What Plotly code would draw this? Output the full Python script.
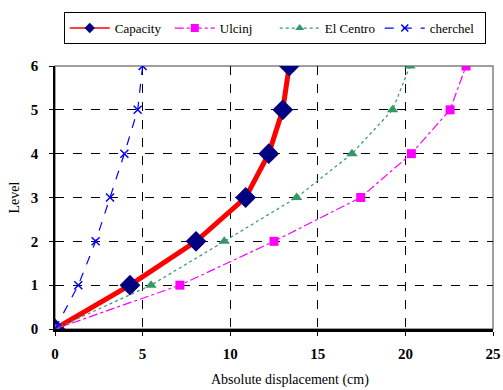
import plotly.graph_objects as go

levels = [0, 1, 2, 3, 4, 5, 6]
capacity = [0, 4.28, 8.05, 10.88, 12.2, 13.0, 13.37]
ulcinj = [0, 7.13, 12.5, 17.45, 20.34, 22.55, 23.46]
el_centro = [0, 5.48, 9.66, 13.79, 16.95, 19.27, 20.26]
cherchel = [0, 1.33, 2.32, 3.14, 3.96, 4.72, 5.0]

FONT = "Times New Roman, Times, Liberation Serif, serif"

fig = go.Figure()
fig.add_trace(go.Scatter(x=capacity, y=levels, name="Capacity", mode="lines+markers",
                         showlegend=False,
                         line=dict(color="#FF0000", width=5),
                         marker=dict(symbol="diamond", size=16, color="#000080")))
fig.add_trace(go.Scatter(x=ulcinj, y=levels, name="Ulcinj", mode="lines+markers",
                         showlegend=False,
                         line=dict(color="#FF00FF", width=1.2, dash="dashdot"),
                         marker=dict(symbol="square", size=9, color="#FF00FF")))
fig.add_trace(go.Scatter(x=el_centro, y=levels, name="El Centro", mode="lines+markers",
                         showlegend=False,
                         line=dict(color="#339966", width=1.2, dash="dot"),
                         marker=dict(symbol="triangle-up", size=10, color="#339966")))
fig.add_trace(go.Scatter(x=cherchel, y=levels, name="cherchel", mode="lines+markers",
                         showlegend=False,
                         line=dict(color="#0000FF", width=1.2, dash="dash"),
                         marker=dict(symbol="x-thin", size=8, color="#0000FF",
                                     line=dict(color="#0000FF", width=1.5))))

# legend-only entries (smaller symbols, as in the reference legend)
fig.add_trace(go.Scatter(x=[None], y=[None], name="Capacity", mode="lines+markers",
                         line=dict(color="#FF0000", width=1.5),
                         marker=dict(symbol="diamond", size=8, color="#000080")))
fig.add_trace(go.Scatter(x=[None], y=[None], name="Ulcinj", mode="lines+markers",
                         line=dict(color="#FF00FF", width=1.2, dash="dashdot"),
                         marker=dict(symbol="square", size=8, color="#FF00FF")))
fig.add_trace(go.Scatter(x=[None], y=[None], name="El Centro", mode="lines+markers",
                         line=dict(color="#339966", width=1.2, dash="dot"),
                         marker=dict(symbol="triangle-up", size=8, color="#339966")))
fig.add_trace(go.Scatter(x=[None], y=[None], name="cherchel", mode="lines+markers",
                         line=dict(color="#0000FF", width=1.2, dash="dash"),
                         marker=dict(symbol="x-thin", size=7, color="#0000FF",
                                     line=dict(color="#0000FF", width=1.5))))

fig.add_shape(type="rect", xref="paper", yref="paper", x0=0, y0=0, x1=1, y1=1,
              line=dict(color="#808080", width=1.5), layer="below")

fig.add_annotation(text="Absolute displacement (cm)", xref="paper", yref="paper",
                   x=0.537, y=-0.194, xanchor="center", yanchor="middle",
                   showarrow=False, font=dict(size=14, family=FONT, color="black"))

fig.update_layout(
    width=503, height=390,
    margin=dict(l=55, r=10, t=66, b=61, autoexpand=False),
    paper_bgcolor="white", plot_bgcolor="white",
    font=dict(family=FONT, color="black"),
    legend=dict(orientation="h", x=0.02, y=1.205, xanchor="left", yanchor="top",
                bordercolor="black", borderwidth=1, font=dict(size=13, family=FONT),
                itemwidth=40, entrywidth=50, tracegroupgap=0),
    xaxis=dict(range=[0, 25], tickvals=[0, 5, 10, 15, 20, 25], automargin=False,
               tickfont=dict(size=15, family=FONT, weight="bold"),
               showgrid=True, gridcolor="black", griddash="dash", gridwidth=1,
               zeroline=False, showline=True, linecolor="black", linewidth=2.5,
               ticks="outside", ticklen=4, tickcolor="black", ticklabelstandoff=5),
    yaxis=dict(range=[0, 6], tickvals=levels, automargin=False,
               tickfont=dict(size=15, family=FONT, weight="bold"),
               showgrid=True, gridcolor="black", griddash="dash", gridwidth=1,
               zeroline=False, showline=True, linecolor="black", linewidth=1.5,
               ticks="outside", ticklen=4, tickcolor="black", ticklabelstandoff=8,
               title=dict(text="Level", font=dict(size=14, family=FONT), standoff=8)),
)

fig.write_html("out.html")
